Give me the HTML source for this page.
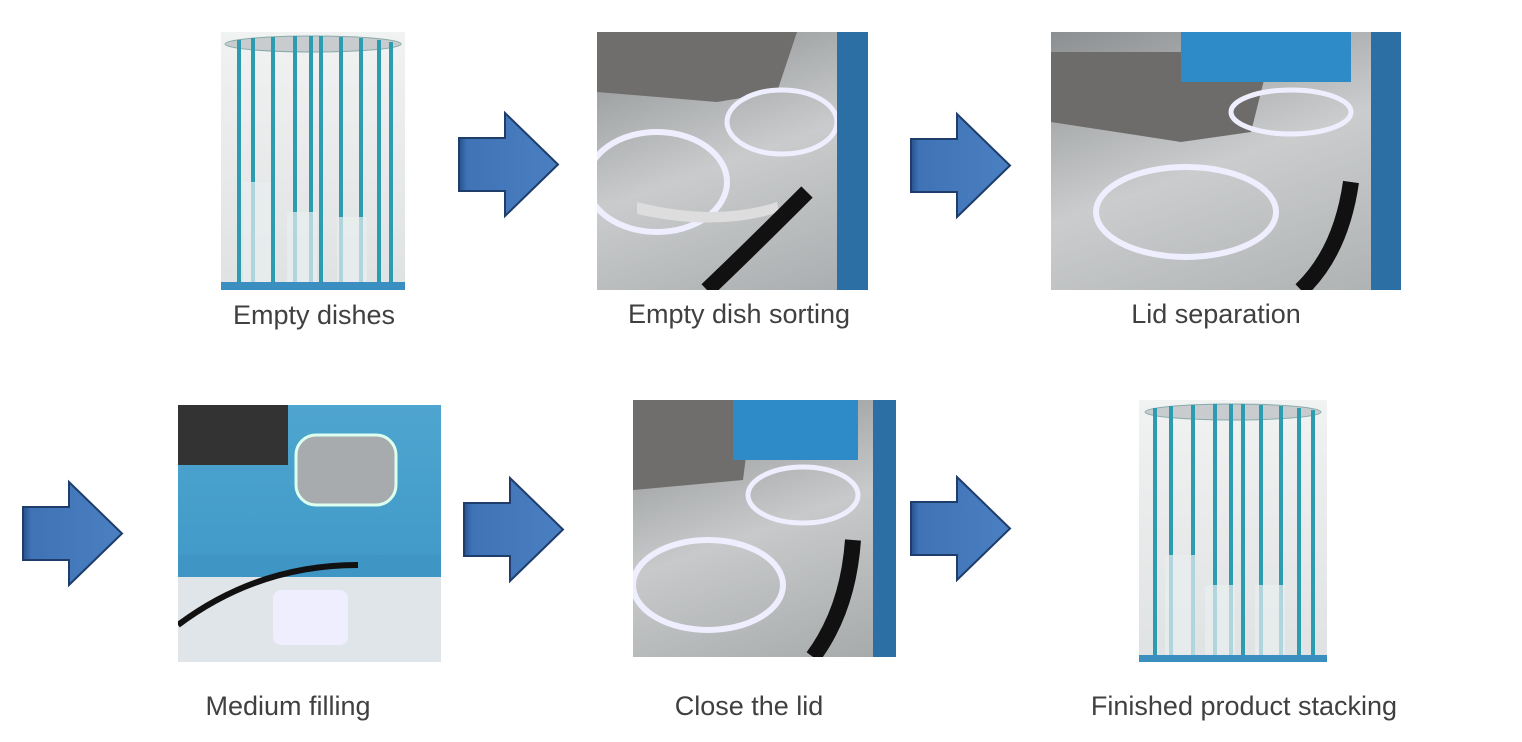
<!DOCTYPE html>
<html><head><style>
body{margin:0;width:1522px;height:742px;background:#fff;position:relative;overflow:hidden;font-family:"Liberation Sans",sans-serif}
.p{position:absolute;overflow:hidden}
.l{position:absolute;font-size:27px;color:#404040;transform:translateX(-50%);white-space:nowrap}
svg{position:absolute}
</style></head><body>
<div class="p" style="left:221px;top:32px;width:184px;height:258px;background:linear-gradient(#f1f2f2,#dfe2e3)">
<svg width="184" height="258" style="left:0;top:0">
<ellipse cx="92" cy="12" rx="88" ry="8" fill="#c8ccce" stroke="#8aa" />
<g stroke="#2d9bb0" stroke-width="4">
<line x1="18" y1="8" x2="18" y2="250"/><line x1="32" y1="6" x2="32" y2="250"/><line x1="52" y1="5" x2="52" y2="250"/><line x1="74" y1="4" x2="74" y2="250"/><line x1="90" y1="4" x2="90" y2="250"/><line x1="100" y1="4" x2="100" y2="250"/><line x1="120" y1="5" x2="120" y2="250"/><line x1="140" y1="6" x2="140" y2="250"/><line x1="158" y1="8" x2="158" y2="250"/><line x1="170" y1="10" x2="170" y2="250"/></g>
<rect x="22" y="150" width="28" height="100" fill="#e8eef0" opacity=".7"/><rect x="66" y="180" width="30" height="72" fill="#e8eef0" opacity=".7"/><rect x="116" y="185" width="30" height="67" fill="#e8eef0" opacity=".7"/>
<rect x="0" y="250" width="184" height="8" fill="#3b8ec0"/>
</svg></div>
<div class="p" style="left:597px;top:32px;width:271px;height:258px;background:linear-gradient(160deg,#8a8d8f,#c9cbcc 50%,#a9acae)">
<svg width="271" height="258" style="left:0;top:0">
<path d="M0 0 H200 L180 60 L120 70 L0 60Z" fill="#6f6e6c"/>
<ellipse cx="60" cy="150" rx="70" ry="50" fill="none" stroke="#eef" stroke-width="6"/>
<ellipse cx="185" cy="90" rx="55" ry="32" fill="none" stroke="#eef" stroke-width="5"/>
<path d="M40 170 Q120 190 180 170 L182 180 Q120 200 40 182Z" fill="#ddd"/>
<path d="M210 160 Q150 220 110 258" stroke="#111" stroke-width="16" fill="none"/>
<rect x="240" y="0" width="31" height="258" fill="#2c6fa5"/>
</svg></div>
<div class="p" style="left:1051px;top:32px;width:350px;height:258px;background:linear-gradient(160deg,#8c8f91,#cacccd 50%,#aeb1b2)">
<svg width="350" height="258" style="left:0;top:0">
<path d="M0 20 H220 L200 100 L130 110 L0 90Z" fill="#6e6c6a"/>
<rect x="130" y="0" width="170" height="50" fill="#2f8ac8"/>
<ellipse cx="240" cy="80" rx="60" ry="22" fill="none" stroke="#eef" stroke-width="5"/>
<ellipse cx="135" cy="180" rx="90" ry="45" fill="none" stroke="#eef" stroke-width="6"/>
<path d="M300 150 Q290 220 250 258" stroke="#111" stroke-width="16" fill="none"/>
<rect x="320" y="0" width="30" height="258" fill="#2c6fa5"/>
</svg></div>
<div class="p" style="left:178px;top:405px;width:263px;height:257px;background:linear-gradient(#4ea5cf,#3a93c4)">
<svg width="263" height="257" style="left:0;top:0">
<rect x="0" y="0" width="110" height="60" fill="#333"/>
<rect x="118" y="30" width="100" height="70" rx="20" fill="#a7abad" stroke="#dfe" stroke-width="3"/>
<rect x="0" y="150" width="263" height="107" fill="#dfe5e8"/>
<rect x="0" y="150" width="263" height="22" fill="#3f95c4"/>
<rect x="95" y="185" width="75" height="55" rx="8" fill="#eef"/>
<path d="M0 220 Q80 160 180 160" stroke="#111" stroke-width="6" fill="none"/>
</svg></div>
<div class="p" style="left:633px;top:400px;width:263px;height:257px;background:linear-gradient(160deg,#8a8d8f,#c7c9ca 50%,#a6a9aa)">
<svg width="263" height="257" style="left:0;top:0">
<path d="M0 0 H120 L110 80 L0 90Z" fill="#6f6e6c"/>
<rect x="100" y="0" width="125" height="60" fill="#2f8ac8"/>
<ellipse cx="170" cy="95" rx="55" ry="28" fill="none" stroke="#eef" stroke-width="5"/>
<ellipse cx="75" cy="185" rx="75" ry="45" fill="none" stroke="#eef" stroke-width="6"/>
<path d="M220 140 Q215 210 180 257" stroke="#111" stroke-width="16" fill="none"/>
<rect x="240" y="0" width="23" height="257" fill="#2c6fa5"/>
</svg></div>
<div class="p" style="left:1139px;top:400px;width:188px;height:262px;background:linear-gradient(#f1f2f2,#dfe2e3)">
<svg width="188" height="262" style="left:0;top:0">
<ellipse cx="94" cy="12" rx="88" ry="8" fill="#c8ccce" stroke="#8aa"/>
<g stroke="#2d9bb0" stroke-width="4">
<line x1="16" y1="8" x2="16" y2="255"/><line x1="32" y1="6" x2="32" y2="255"/><line x1="54" y1="5" x2="54" y2="255"/><line x1="76" y1="4" x2="76" y2="255"/><line x1="92" y1="4" x2="92" y2="255"/><line x1="104" y1="4" x2="104" y2="255"/><line x1="122" y1="5" x2="122" y2="255"/><line x1="142" y1="6" x2="142" y2="255"/><line x1="160" y1="8" x2="160" y2="255"/><line x1="174" y1="10" x2="174" y2="255"/></g>
<rect x="26" y="155" width="30" height="100" fill="#e8eef0" opacity=".7"/><rect x="66" y="185" width="30" height="72" fill="#e8eef0" opacity=".7"/><rect x="116" y="185" width="30" height="70" fill="#e8eef0" opacity=".7"/>
<rect x="0" y="255" width="188" height="7" fill="#3b8ec0"/>
</svg></div>
<svg width="1522" height="742" style="left:0;top:0">
<defs><linearGradient id="g" x1="0" x2="1"><stop offset="0" stop-color="#27518c"/><stop offset=".08" stop-color="#3f73b6"/><stop offset="1" stop-color="#4a7fc1"/></linearGradient>
<path id="a" d="M0 25 H46 V0 L99 51.5 L46 103 V78 H0Z" fill="url(#g)" stroke="#1f3d6b" stroke-width="2"/></defs>
<use href="#a" x="459" y="113"/><use href="#a" x="911" y="114"/><use href="#a" x="23" y="482"/><use href="#a" x="464" y="478"/><use href="#a" x="911" y="477"/>
</svg>
<div class="l" style="left:314px;top:300px">Empty dishes</div>
<div class="l" style="left:739px;top:299px">Empty dish sorting</div>
<div class="l" style="left:1216px;top:299px">Lid separation</div>
<div class="l" style="left:288px;top:691px">Medium filling</div>
<div class="l" style="left:749px;top:691px">Close the lid</div>
<div class="l" style="left:1244px;top:691px">Finished product stacking</div>
</body></html>
